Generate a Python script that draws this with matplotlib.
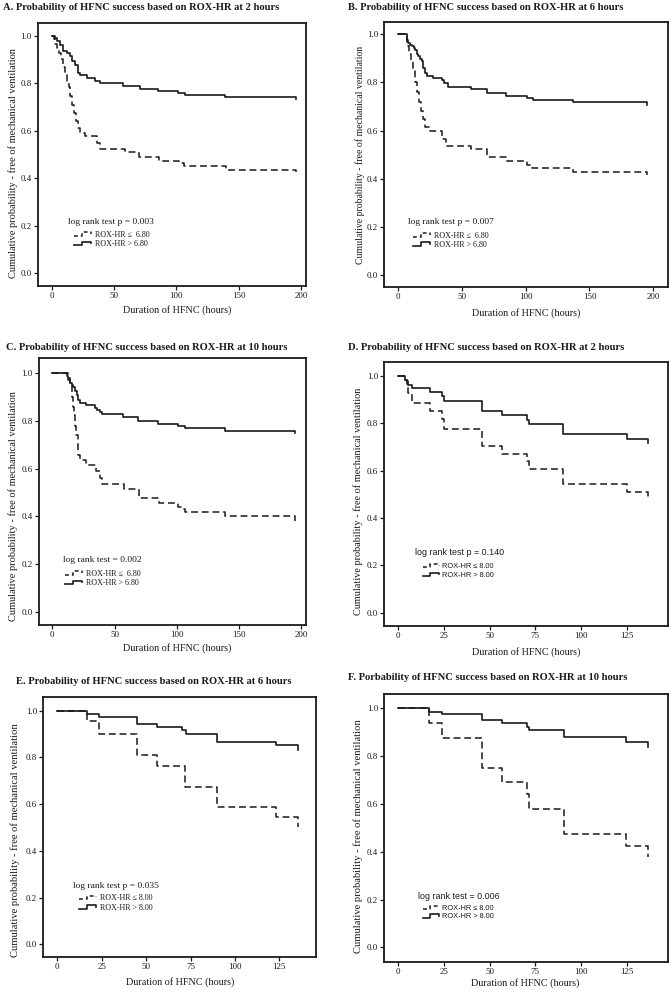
import matplotlib
matplotlib.use("Agg")
import matplotlib.pyplot as plt
from matplotlib.lines import Line2D
from matplotlib.legend_handler import HandlerBase

# ---------------- data ----------------
titles = [
    "A. Probability of HFNC success based on ROX-HR at 2 hours",
    "B. Probability of HFNC success based on ROX-HR at 6 hours",
    "C. Probability of HFNC success based on ROX-HR at 10 hours",
    "D. Probability of HFNC success based on ROX-HR at 2 hours",
    "E. Probability of HFNC success based on ROX-HR at 6 hours",
    "F. Porbability of HFNC success based on ROX-HR at 10 hours",
]
logrank_texts = [
    "log rank test p = 0.003",
    "log rank test p = 0.007",
    "log rank test = 0.002",
    "log rank test p = 0.140",
    "log rank test p = 0.035",
    "log rank test = 0.006",
]
low_labels = ["ROX-HR \u2264  6.80"] * 3 + ["ROX-HR \u2264 8.00"] * 3
high_labels = ["ROX-HR > 6.80"] * 3 + ["ROX-HR > 8.00"] * 3
x_label = "Duration of HFNC (hours)"
y_label = "Cumulative probability - free of mechanical ventilation"

xticks_long = [0, 50, 100, 150, 200]
xticks_short = [0, 25, 50, 75, 100, 125]
yticks = [0.0, 0.2, 0.4, 0.6, 0.8, 1.0]

# Panel A
A_hi_t = [0, 2.5, 4, 6.5, 9, 12, 14.5, 16, 18.5, 21, 22.5, 28, 35, 39, 57, 71, 85.5, 101.5, 107, 139, 196, 196]
A_hi_s = [1.0, 0.99, 0.976, 0.962, 0.935, 0.927, 0.913, 0.893, 0.878, 0.845, 0.833, 0.823, 0.81, 0.80, 0.789, 0.777, 0.768, 0.76, 0.752, 0.744, 0.744, 0.735]
A_lo_t = [0, 1.5, 3, 4.5, 6, 7.5, 9, 10.5, 12, 13.5, 15, 16.5, 18, 19.5, 21, 22.5, 27, 36.5, 38.5, 58.5, 70, 86, 102, 106, 139.5, 196, 196]
A_lo_s = [1.0, 0.985, 0.965, 0.95, 0.925, 0.9, 0.87, 0.845, 0.81, 0.785, 0.745, 0.71, 0.675, 0.64, 0.61, 0.592, 0.578, 0.55, 0.525, 0.511, 0.488, 0.474, 0.464, 0.45, 0.436, 0.436, 0.425]

# Panel B
B_hi_t = [0, 7, 8.3, 9.5, 11, 12.5, 13.6, 15, 16, 17.5, 18.8, 20, 21.4, 22.7, 27.5, 34.4, 36.5, 39, 57, 70, 85, 101, 106, 137, 195, 195]
B_hi_s = [1.0, 0.975, 0.964, 0.957, 0.95, 0.943, 0.936, 0.92, 0.909, 0.898, 0.888, 0.86, 0.84, 0.827, 0.82, 0.81, 0.797, 0.783, 0.773, 0.756, 0.745, 0.735, 0.727, 0.717, 0.717, 0.706]
B_lo_t = [0, 7, 8, 9, 10.5, 12, 13.5, 15, 16.5, 18, 19.5, 21, 25, 35, 38, 57, 70, 85, 101, 105, 137, 195, 195]
B_lo_s = [1.0, 0.97, 0.95, 0.92, 0.89, 0.85, 0.80, 0.76, 0.72, 0.68, 0.65, 0.615, 0.60, 0.565, 0.537, 0.522, 0.49, 0.473, 0.458, 0.445, 0.43, 0.43, 0.415]

# Panel C
C_hi_t = [0, 11.5, 12.8, 14.2, 15.5, 16.9, 18.3, 19.6, 21, 22.3, 27, 34.3, 36.3, 38.3, 40, 57, 69, 85, 101, 107, 139, 195, 195]
C_hi_s = [1.0, 0.99, 0.979, 0.958, 0.95, 0.944, 0.925, 0.909, 0.89, 0.874, 0.867, 0.853, 0.845, 0.839, 0.829, 0.816, 0.80, 0.788, 0.777, 0.769, 0.759, 0.759, 0.748]
C_lo_t = [0, 12.8, 14.2, 15.5, 16.5, 17.5, 18.5, 19.4, 20.3, 21, 22, 27, 35, 38, 40, 58, 70, 86, 101, 104, 107, 139, 195, 195]
C_lo_s = [1.0, 0.97, 0.951, 0.90, 0.86, 0.825, 0.78, 0.741, 0.70, 0.657, 0.636, 0.615, 0.59, 0.56, 0.535, 0.515, 0.476, 0.457, 0.44, 0.43, 0.42, 0.40, 0.40, 0.38]

# Panel D
D_hi_t = [0, 3.7, 4.6, 5.5, 7.3, 17.3, 24, 24.8, 45.6, 56.6, 70.3, 71.5, 90.3, 125, 136.8, 136.8]
D_hi_s = [1.0, 0.985, 0.977, 0.963, 0.949, 0.932, 0.914, 0.893, 0.853, 0.837, 0.815, 0.797, 0.755, 0.735, 0.735, 0.715]
D_lo_t = [0, 3.7, 4.6, 5.5, 7.3, 17.3, 24, 24.8, 45.6, 56.6, 70.3, 71.5, 90.3, 125, 136.8, 136.8]
D_lo_s = [1.0, 0.985, 0.962, 0.928, 0.887, 0.851, 0.82, 0.776, 0.706, 0.672, 0.64, 0.608, 0.543, 0.51, 0.51, 0.48]

# Panel E
E_hi_t = [0, 16.5, 23.6, 45, 56, 70, 72.3, 89.7, 123, 135.5, 135.5]
E_hi_s = [1.0, 0.987, 0.973, 0.944, 0.93, 0.916, 0.899, 0.867, 0.851, 0.851, 0.83]
E_lo_t = [0, 16.5, 23.6, 45, 56, 72, 89.7, 123, 135.5, 135.5]
E_lo_s = [1.0, 0.954, 0.902, 0.808, 0.762, 0.673, 0.588, 0.543, 0.543, 0.50]

# Panel F
F_hi_t = [0, 17, 23.7, 45.6, 56.6, 70.3, 71.5, 90.7, 124.6, 136.8, 136.8]
F_hi_s = [1.0, 0.986, 0.976, 0.951, 0.937, 0.923, 0.909, 0.879, 0.861, 0.861, 0.84]
F_lo_t = [0, 17, 23.7, 45.6, 56.6, 70.3, 71.5, 90.7, 124.6, 136.8, 136.8]
F_lo_s = [1.0, 0.937, 0.874, 0.749, 0.69, 0.64, 0.58, 0.475, 0.424, 0.424, 0.38]

series = [
    (A_hi_t, A_hi_s, A_lo_t, A_lo_s),
    (B_hi_t, B_hi_s, B_lo_t, B_lo_s),
    (C_hi_t, C_hi_s, C_lo_t, C_lo_s),
    (D_hi_t, D_hi_s, D_lo_t, D_lo_s),
    (E_hi_t, E_hi_s, E_lo_t, E_lo_s),
    (F_hi_t, F_hi_s, F_lo_t, F_lo_s),
]

# ---------------- layout ----------------
W, H = 669, 992
frames = [
    (38, 306, 23, 286),
    (384.3, 667.7, 21.7, 287),
    (39, 306, 357.7, 625),
    (384.3, 667.7, 362.3, 626),
    (43.3, 316, 697.3, 956.7),
    (384.3, 667.7, 694.3, 961.7),
]
xlims = [(-10.96, 203.96), (-10.46, 211.2), (-10.72, 204.0),
         (-7.68, 147.46), (-7.9, 145.65), (-7.68, 147.46)]
ylims = [(-0.0533, 1.0533), (-0.0499, 1.0525), (-0.056, 1.0656),
         (-0.0563, 1.058), (-0.053, 1.057), (-0.060, 1.0587)]
title_pos = [(3, 7), (348, 7), (6, 348), (348, 347), (16, 682), (348, 678)]
xlabel_pos = [(177.5, 310), (525.8, 312.7), (177.5, 648.3), (525.8, 651.7), (180, 981.7), (525, 983)]
ylabel_pos = [(13.3, 163.5), (360, 155), (13.3, 506), (358, 501.7), (15, 840), (358, 835.8)]
ylabel_size = [7.5, 7.0, 7.5, 7.4, 7.6, 7.6]
lr_pos = [(12.8, 0.217), (7.8, 0.222), (8.8, 0.217), (9.1, 0.255), (8.6, 0.25), (10.6, 0.212)]
leg_pos = [(18, 0.157), (12.2, 0.159), (10.2, 0.154), (13.7, 0.19), (12.4, 0.193), (13.7, 0.159)]
sans_legend = [False, False, False, True, False, True]

serif = ["Liberation Serif", "DejaVu Serif"]
sans = ["Liberation Sans", "DejaVu Sans"]
plt.rcParams["font.family"] = serif

INK = "#1a1a1a"


class StepHandler(HandlerBase):
    def create_artists(self, legend, orig_handle, xdescent, ydescent,
                       width, height, fontsize, trans):
        x0 = -xdescent
        y0 = -ydescent
        lo = y0 + height * 0.2
        hi = y0 + height * 0.75
        xs = [x0, x0 + width * 0.45, x0 + width * 0.45, x0 + width, x0 + width]
        ys = [lo, lo, hi, hi, y0 + height * 0.5]
        ln = Line2D(xs, ys, color=orig_handle.get_color(),
                    linestyle=orig_handle.get_linestyle(),
                    linewidth=orig_handle.get_linewidth(), transform=trans)
        if orig_handle.get_linestyle() in ("--", "dashed"):
            ln.set_dashes((2.5, 2.0))
        return [ln]


fig = plt.figure(figsize=(W / 100, H / 100), dpi=100)

for i in range(6):
    l, r, t, b = frames[i]
    ax = fig.add_axes([l / W, 1 - b / H, (r - l) / W, (b - t) / H])
    hi_t, hi_s, lo_t, lo_s = series[i]
    h_hi, = ax.plot(hi_t, hi_s, drawstyle="steps-post", color=INK, lw=1.2, ls="-")
    h_lo, = ax.plot(lo_t, lo_s, drawstyle="steps-post", color=INK, lw=1.1, ls="--",
                    dashes=(4.5, 2.5))
    ax.set_xlim(*xlims[i])
    ax.set_ylim(*ylims[i])
    ax.set_xticks(xticks_long if i < 3 else xticks_short)
    ax.set_yticks(yticks)
    ax.set_yticklabels([f"{v:.1f}" for v in yticks])
    ax.tick_params(direction="out", length=3, width=0.9, labelsize=6.5, pad=1.5, colors=INK)
    for sp in ax.spines.values():
        sp.set_linewidth(1.3)
        sp.set_color(INK)

    ax.set_xlabel(x_label, fontsize=7.3, color=INK)
    ax.xaxis.label.set_va("center")
    xl, yl = xlabel_pos[i]
    ax.xaxis.set_label_coords((xl - l) / (r - l), 1 - (yl - t) / (b - t))

    ax.set_ylabel(y_label, fontsize=ylabel_size[i], color=INK)
    ax.yaxis.label.set_va("center")
    xl, yl = ylabel_pos[i]
    ax.yaxis.set_label_coords((xl - l) / (r - l), 1 - (yl - t) / (b - t))

    fam = sans if sans_legend[i] else serif
    lx, ly = lr_pos[i]
    ax.text(lx, ly, logrank_texts[i], fontsize=6.8 if not sans_legend[i] else 6.4,
            family=fam, va="center", ha="left", color=INK)
    gx, gy = leg_pos[i]
    leg = ax.legend([h_lo, h_hi], [low_labels[i], high_labels[i]],
                    handler_map={Line2D: StepHandler()},
                    loc="upper left", bbox_to_anchor=(gx, gy + 0.022),
                    bbox_transform=ax.transData, frameon=False,
                    prop={"family": fam, "size": 5.8 if not sans_legend[i] else 5.3},
                    handlelength=2.1, handleheight=0.9, handletextpad=0.5,
                    labelspacing=0.15, borderpad=0, borderaxespad=0)
    for txt in leg.get_texts():
        txt.set_color(INK)

    tx, ty = title_pos[i]
    fig.text(tx / W, 1 - ty / H, titles[i], fontsize=7.6, fontweight="bold",
             ha="left", va="center", color=INK)

fig.savefig("out.png", dpi=100)
